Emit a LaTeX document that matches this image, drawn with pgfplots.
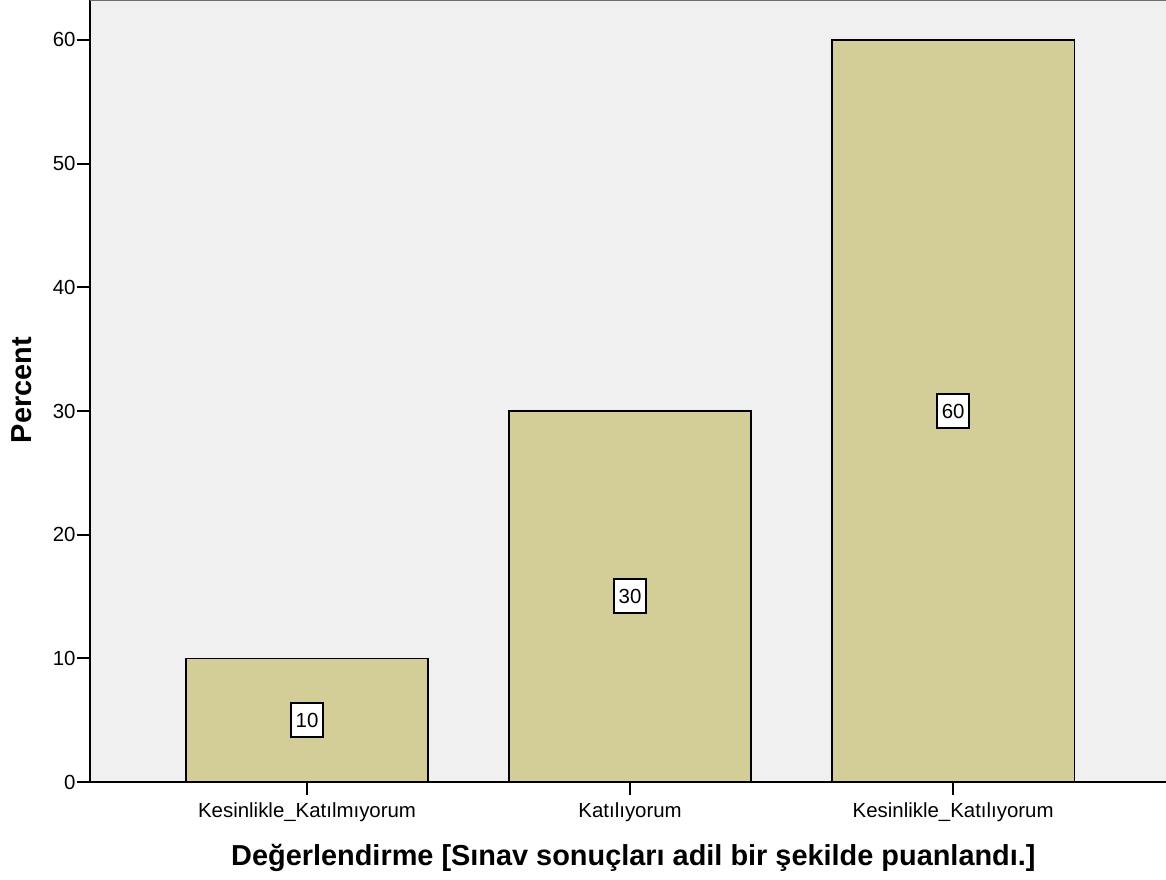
\documentclass[border=0pt]{standalone}
\usepackage{pgfplots}
\pgfplotsset{compat=1.18}
\usepackage{fontspec}
\setmainfont{Liberation Sans}

\definecolor{plotbg}{RGB}{240,240,240}
\definecolor{barfill}{RGB}{211,206,151}
\definecolor{framegray}{RGB}{110,110,110}

\begin{document}
\begin{tikzpicture}
\useasboundingbox (-45bp,-49bp) rectangle (538bp,391bp);
\begin{axis}[
scale only axis,
width=538bp, height=391bp,
axis background/.style={fill=plotbg},
axis x line*=bottom,
axis y line*=left,
axis line style={black, line width=1bp},
xmin=-0.672, xmax=2.659,
ymin=0, ymax=63.23,
ytick={0,10,20,30,40,50,60},
xtick={0,1,2},
xticklabels={Kesinlikle\_Katılmıyorum, Katılıyorum, Kesinlikle\_Katılıyorum},
tick align=outside,
major tick length=6.5bp,
tick style={black, line width=1bp},
/pgf/number format/assume math mode=true,
ticklabel style={font=\fontsize{10.25}{12}\selectfont},
yticklabel style={inner sep=0.5bp},
xticklabel style={inner sep=0pt, yshift=-3.5bp},
xlabel={Değerlendirme [Sınav sonuçları adil bir şekilde puanlandı.]},
ylabel={Percent},
xlabel style={font=\bfseries\fontsize{14.5}{16}\selectfont, at={(axis description cs:0.505,0)}, anchor=center, yshift=-38bp},
ylabel style={font=\bfseries\fontsize{14.5}{16}\selectfont, at={(axis description cs:-0.0632,0.501)}, anchor=center},
]
\draw[framegray, line width=1bp] (rel axis cs:0,1) -- (rel axis cs:1,1);
\addplot[ybar, bar width=0.75, fill=barfill, draw=black, line width=0.75bp]
coordinates {(0,10) (1,30) (2,60)};
\addplot[draw=none, mark=none, nodes near coords, point meta=explicit symbolic,
nodes near coords align=center,
every node near coord/.append style={font=\fontsize{10.25}{12}\selectfont, fill=white, draw=black, line width=1bp, inner xsep=2.5bp, inner ysep=1.5bp, minimum height=17bp, anchor=center}]
coordinates {(0,5) [10] (1,15) [30] (2,30) [60]};
\end{axis}
\end{tikzpicture}
\end{document}
